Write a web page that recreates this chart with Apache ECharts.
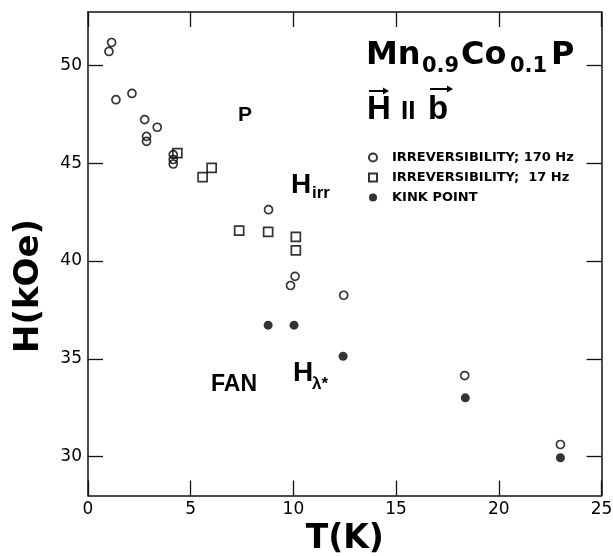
<!DOCTYPE html>
<html>
<head>
<meta charset="utf-8">
<script src="https://cdn.jsdelivr.net/npm/echarts@6/dist/echarts.min.js"></script>
<style>html,body{margin:0;padding:0;background:#fff}#c{width:613px;height:556px}</style>
</head>
<body>
<div id="c"></div>
<script>
// ---- data ----
const xTicks = [0, 5, 10, 15, 20, 25];
const yTicks = [30, 35, 40, 45, 50];
const legendNames = ['IRREVERSIBILITY; 170 Hz', 'IRREVERSIBILITY;  17 Hz', 'KINK POINT'];
// Irreversibility 170 Hz (open circles): [T(K), H(kOe)]
const irr170 = [
  [1.15, 51.19], [1.02, 50.73], [1.36, 48.26], [2.14, 48.58], [2.76, 47.24],
  [3.37, 46.85], [2.85, 46.38], [2.85, 46.13], [4.15, 45.45], [4.15, 45.2],
  [4.15, 44.97], [8.79, 42.63], [10.08, 39.22], [9.86, 38.75], [12.45, 38.25],
  [18.34, 34.14], [23.0, 30.61]
];
// Irreversibility 17 Hz (open squares)
const irr17 = [
  [4.35, 45.53], [6.02, 44.77], [5.58, 44.3], [7.36, 41.56], [8.77, 41.49],
  [10.12, 41.24], [10.12, 40.55]
];
// Kink point (filled circles)
const kink = [
  [8.77, 36.72], [10.03, 36.72], [12.42, 35.13], [18.37, 33.0], [23.0, 29.93]
];

const chart = echarts.init(document.getElementById('c'), null, {renderer: 'canvas'});
const AX = '#111';
const tickFont = {fontFamily: 'DejaVu Sans', fontSize: 17, color: '#000'};
function xAx(pos, showLabel) {
  return {
    type: 'value', position: pos, min: 0, max: 25,
    axisLine: {show: true, onZero: false, lineStyle: {color: AX, width: 1.5}},
    axisTick: {show: true, inside: true, length: 15, customValues: xTicks, lineStyle: {color: AX, width: 1.3}},
    axisLabel: {show: showLabel, customValues: xTicks, margin: 6, ...tickFont},
    splitLine: {show: false}
  };
}
function yAx(pos, showLabel) {
  return {
    type: 'value', position: pos, min: 28, max: 52.75,
    axisLine: {show: true, onZero: false, lineStyle: {color: AX, width: 1.5}},
    axisTick: {show: true, inside: true, length: 15, customValues: yTicks, lineStyle: {color: AX, width: 1.3}},
    axisLabel: {show: showLabel, customValues: yTicks, margin: 6, ...tickFont},
    splitLine: {show: false}
  };
}
const xa = xAx('bottom', true);
xa.name = 'T(K)';
xa.nameLocation = 'middle';
xa.nameGap = 38;
xa.nameTextStyle = {fontFamily: 'DejaVu Sans', fontWeight: 'bold', fontSize: 33, color: '#000', verticalAlign: 'middle'};

function txt(x, y, text, size, opts) {
  return {
    type: 'text', x: x, y: y, silent: true,
    style: Object.assign({text: text, fontFamily: 'Liberation Sans', fontWeight: 'bold', fontSize: size,
      fill: '#000', align: 'left', verticalAlign: 'middle'}, (opts && opts.style) || {})
  };
}
function arrow(x1, x2, y) {
  return [
    {type: 'line', silent: true, shape: {x1: x1, y1: y, x2: x2 - 4, y2: y}, style: {stroke: '#000', lineWidth: 2}},
    {type: 'polygon', silent: true, shape: {points: [[x2, y], [x2 - 6, y - 3.5], [x2 - 6, y + 3.5]]}, style: {fill: '#000'}}
  ];
}

const option = {
  animation: false,
  backgroundColor: '#fff',
  grid: {left: 88, right: 11.5, top: 12, bottom: 60.5, containLabel: false, outerBoundsMode: 'none'},
  xAxis: [xa, xAx('top', false)],
  yAxis: [yAx('left', true), yAx('right', false)],
  legend: {
    orient: 'vertical', left: 363, top: 146, itemWidth: 8, itemHeight: 8, itemGap: 7,
    selectedMode: false,
    textStyle: {fontFamily: 'DejaVu Sans', fontWeight: 'bold', fontSize: 13, color: '#000', padding: [0, 0, 0, 10]},
    data: legendNames
  },
  series: [
    {type: 'scatter', name: legendNames[0], data: irr170, symbol: 'circle', symbolSize: 8,
     itemStyle: {color: 'rgba(255,255,255,0)', borderColor: '#000', borderWidth: 1.7}, emphasis: {disabled: true}},
    {type: 'scatter', name: legendNames[1], data: irr17, symbol: 'rect', symbolSize: 9,
     itemStyle: {color: 'rgba(255,255,255,0)', borderColor: '#000', borderWidth: 1.7}, emphasis: {disabled: true}},
    {type: 'scatter', name: legendNames[2], data: kink, symbol: 'circle', symbolSize: 9,
     itemStyle: {color: '#000'}, emphasis: {disabled: true}}
  ],
  graphic: [
    // y axis title
    {type: 'text', x: 29, y: 286, rotation: Math.PI / 2, silent: true,
     style: {text: 'H(kOe)', fontFamily: 'DejaVu Sans', fontWeight: 'bold', fontSize: 34, fill: '#000', align: 'center', verticalAlign: 'middle'}},
    // compound title
    txt(366, 56, 'Mn', 32, {style: {fontFamily: 'DejaVu Sans'}}),
    txt(422, 67, '0.9', 21, {style: {fontFamily: 'DejaVu Sans'}}),
    txt(461, 56, 'Co', 32, {style: {fontFamily: 'DejaVu Sans'}}),
    txt(510, 67, '0.1', 21, {style: {fontFamily: 'DejaVu Sans'}}),
    txt(551, 56, 'P', 32, {style: {fontFamily: 'DejaVu Sans'}}),
    // H || b
    txt(367, 110, 'H', 33),
    txt(401, 112, 'II', 26),
    txt(428, 110, 'b', 33),
    ...arrow(369, 389, 91),
    ...arrow(430, 453, 89),
    // region labels
    txt(238, 115.5, 'P', 21),
    txt(291, 185, 'H', 28),
    txt(312, 193, 'irr', 17),
    txt(211, 384.5, 'FAN', 23),
    txt(293, 373.5, 'H', 28),
    txt(312, 384, 'λ*', 17)
  ]
};
chart.setOption(option);
</script>
</body>
</html>
